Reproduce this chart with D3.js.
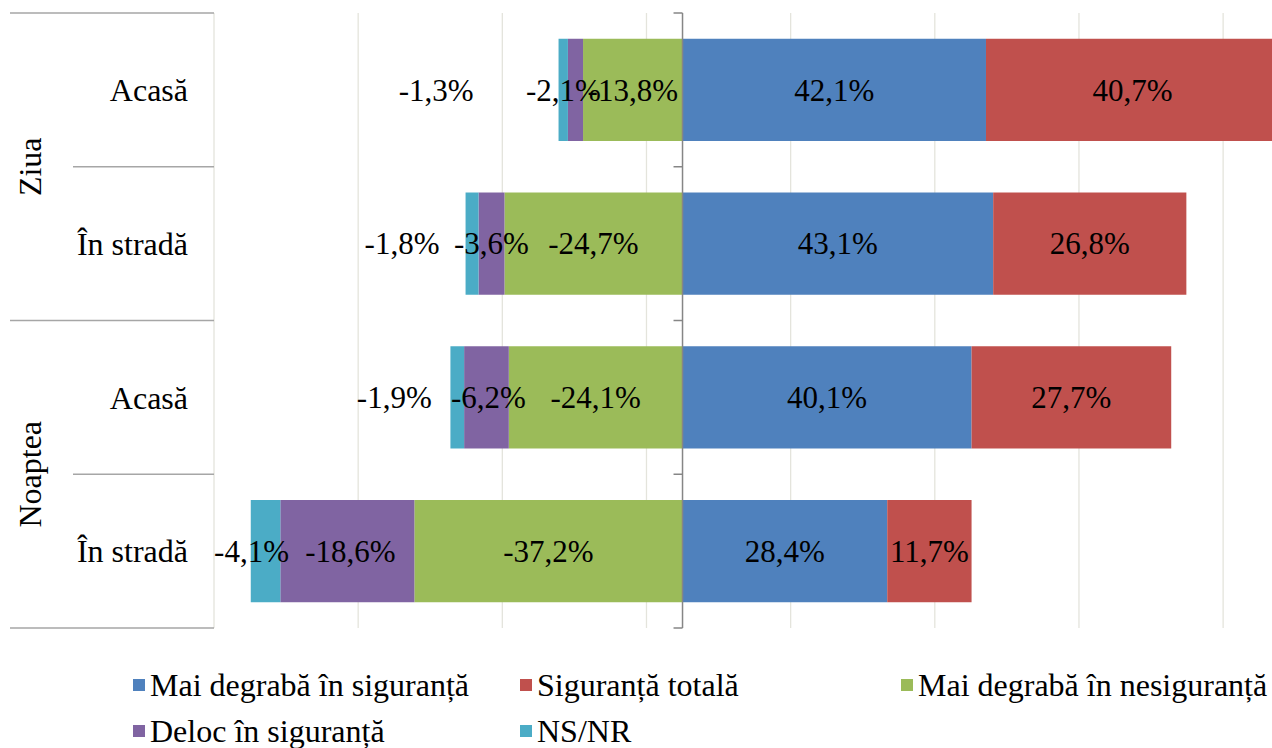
<!DOCTYPE html>
<html>
<head>
<meta charset="utf-8">
<script src="https://cdn.jsdelivr.net/npm/d3@7"></script>
<style>
  body { margin: 0; background: #fff; }
  svg { display: block; }
</style>
</head>
<body>
<svg id="chart" width="1272" height="748"></svg>
<script>
// rows, top to bottom
const groups = ["Ziua", "Noaptea"];
const rows = ["Acasă", "În stradă", "Acasă", "În stradă"];
const rowGroup = ["Ziua", "Ziua", "Noaptea", "Noaptea"];

// series values (%), negative side stacks outward from zero
const maiDegrabaSiguranta = [42.1, 43.1, 40.1, 28.4];
const sigurantaTotala = [40.7, 26.8, 27.7, 11.7];
const maiDegrabaNesiguranta = [-13.8, -24.7, -24.1, -37.2];
const delocSiguranta = [-2.1, -3.6, -6.2, -18.6];
const nsnr = [-1.3, -1.8, -1.9, -4.1];

const gridTicks = [-65, -45, -25, -5, 15, 35, 55, 75];

const series = [
  { name: "Mai degrabă în siguranță", values: maiDegrabaSiguranta, color: "#4F81BD" },
  { name: "Siguranță totală", values: sigurantaTotala, color: "#C0504D" },
  { name: "Mai degrabă în nesiguranță", values: maiDegrabaNesiguranta, color: "#9BBB59" },
  { name: "Deloc în siguranță", values: delocSiguranta, color: "#8064A2" },
  { name: "NS/NR", values: nsnr, color: "#4BACC6" }
];

// manual label nudges (px) for the thin segments, as in the original
const labelNudge = {
  "Deloc în siguranță": [-12, 0, 2, 3],
  "NS/NR": [-127, -70, -63, -14]
};

const FONT = "'Liberation Serif', 'Times New Roman', Times, 'DejaVu Serif', serif";

const svg = d3.select("#chart").style("font-family", FONT);
const plotLeft = 214, plotTop = 13, plotBottom = 628;

const x = d3.scaleLinear().domain([-65, 85]).range([plotLeft, plotLeft + 150 * 7.208]);
const y = d3.scaleBand().domain(d3.range(rows.length)).range([plotTop, plotBottom]).padding(0);
const barH = y.bandwidth() * 0.665;

// gridlines
svg.append("g").selectAll("line")
  .data(gridTicks)
  .enter().append("line")
  .attr("x1", d => x(d)).attr("x2", d => x(d))
  .attr("y1", plotTop).attr("y2", plotBottom)
  .attr("stroke", "#e4e4dc").attr("stroke-width", 1.3);

// stack the segments
const segs = [];
rows.forEach((r, i) => {
  let pos = 0, neg = 0;
  series.forEach(s => {
    const v = s.values[i];
    let x0, x1;
    if (v >= 0) { x0 = pos; x1 = pos + v; pos = x1; }
    else { x0 = neg + v; x1 = neg; neg = x0; }
    const nudge = labelNudge[s.name] ? labelNudge[s.name][i] : 0;
    segs.push({ row: i, v, x0, x1, color: s.color, nudge });
  });
});

svg.append("g").selectAll("rect")
  .data(segs)
  .enter().append("rect")
  .attr("x", d => x(d.x0))
  .attr("width", d => x(d.x1) - x(d.x0))
  .attr("y", d => y(d.row) + (y.bandwidth() - barH) / 2)
  .attr("height", barH)
  .attr("fill", d => d.color);

// zero axis with ticks on category boundaries
const axisG = svg.append("g").attr("stroke", "#868686").attr("stroke-width", 1.5);
axisG.append("line")
  .attr("x1", x(0)).attr("x2", x(0))
  .attr("y1", plotTop).attr("y2", plotBottom);
axisG.selectAll(".tk")
  .data(d3.range(rows.length + 1))
  .enter().append("line")
  .attr("x1", x(0) - 9).attr("x2", x(0))
  .attr("y1", d => plotTop + d * y.step()).attr("y2", d => plotTop + d * y.step());

// value labels
const fmt = v => d3.format(".1f")(v).replace(".", ",").replace("−", "-") + "%";
svg.append("g").selectAll("text")
  .data(segs)
  .enter().append("text")
  .attr("x", d => x((d.x0 + d.x1) / 2) + d.nudge)
  .attr("y", d => y(d.row) + y.bandwidth() / 2)
  .attr("dy", "0.35em")
  .attr("text-anchor", "middle")
  .attr("font-size", 31)
  .attr("fill", "#000")
  .text(d => fmt(d.v));

// category axis on the left
const catG = svg.append("g");
d3.range(rows.length + 1).forEach(k => {
  const yy = plotTop + k * y.step();
  catG.append("line")
    .attr("x1", k % 2 === 0 ? 10 : 73).attr("x2", plotLeft)
    .attr("y1", yy).attr("y2", yy)
    .attr("stroke", "#a6a6a6").attr("stroke-width", 1.5);
});
catG.selectAll(".sub")
  .data(rows)
  .enter().append("text")
  .attr("x", 188)
  .attr("y", (d, i) => y(i) + y.bandwidth() / 2)
  .attr("dy", "0.35em")
  .attr("text-anchor", "end")
  .attr("font-size", 32)
  .text(d => d);
catG.selectAll(".grp")
  .data(groups)
  .enter().append("text")
  .attr("transform", (g, gi) => {
    const idx = rowGroup.map((v, i) => v === g ? i : -1).filter(i => i >= 0);
    const cy = (y(idx[0]) + y(idx[idx.length - 1]) + y.bandwidth()) / 2;
    return `translate(30,${cy}) rotate(-90)`;
  })
  .attr("dy", "0.35em")
  .attr("text-anchor", "middle")
  .attr("font-size", 32)
  .text(d => d);

// legend
const legendCols = [133, 520, 901];
const legendRows = [685, 731];
const leg = svg.append("g").selectAll("g")
  .data(series)
  .enter().append("g")
  .attr("transform", (d, i) => `translate(${legendCols[i % 3]},${legendRows[Math.floor(i / 3)]})`);
leg.append("rect")
  .attr("x", 0).attr("y", -6).attr("width", 12).attr("height", 12)
  .attr("fill", d => d.color);
leg.append("text")
  .attr("x", 17).attr("dy", "0.35em")
  .attr("font-size", 32)
  .text(d => d.name);
</script>
</body>
</html>
